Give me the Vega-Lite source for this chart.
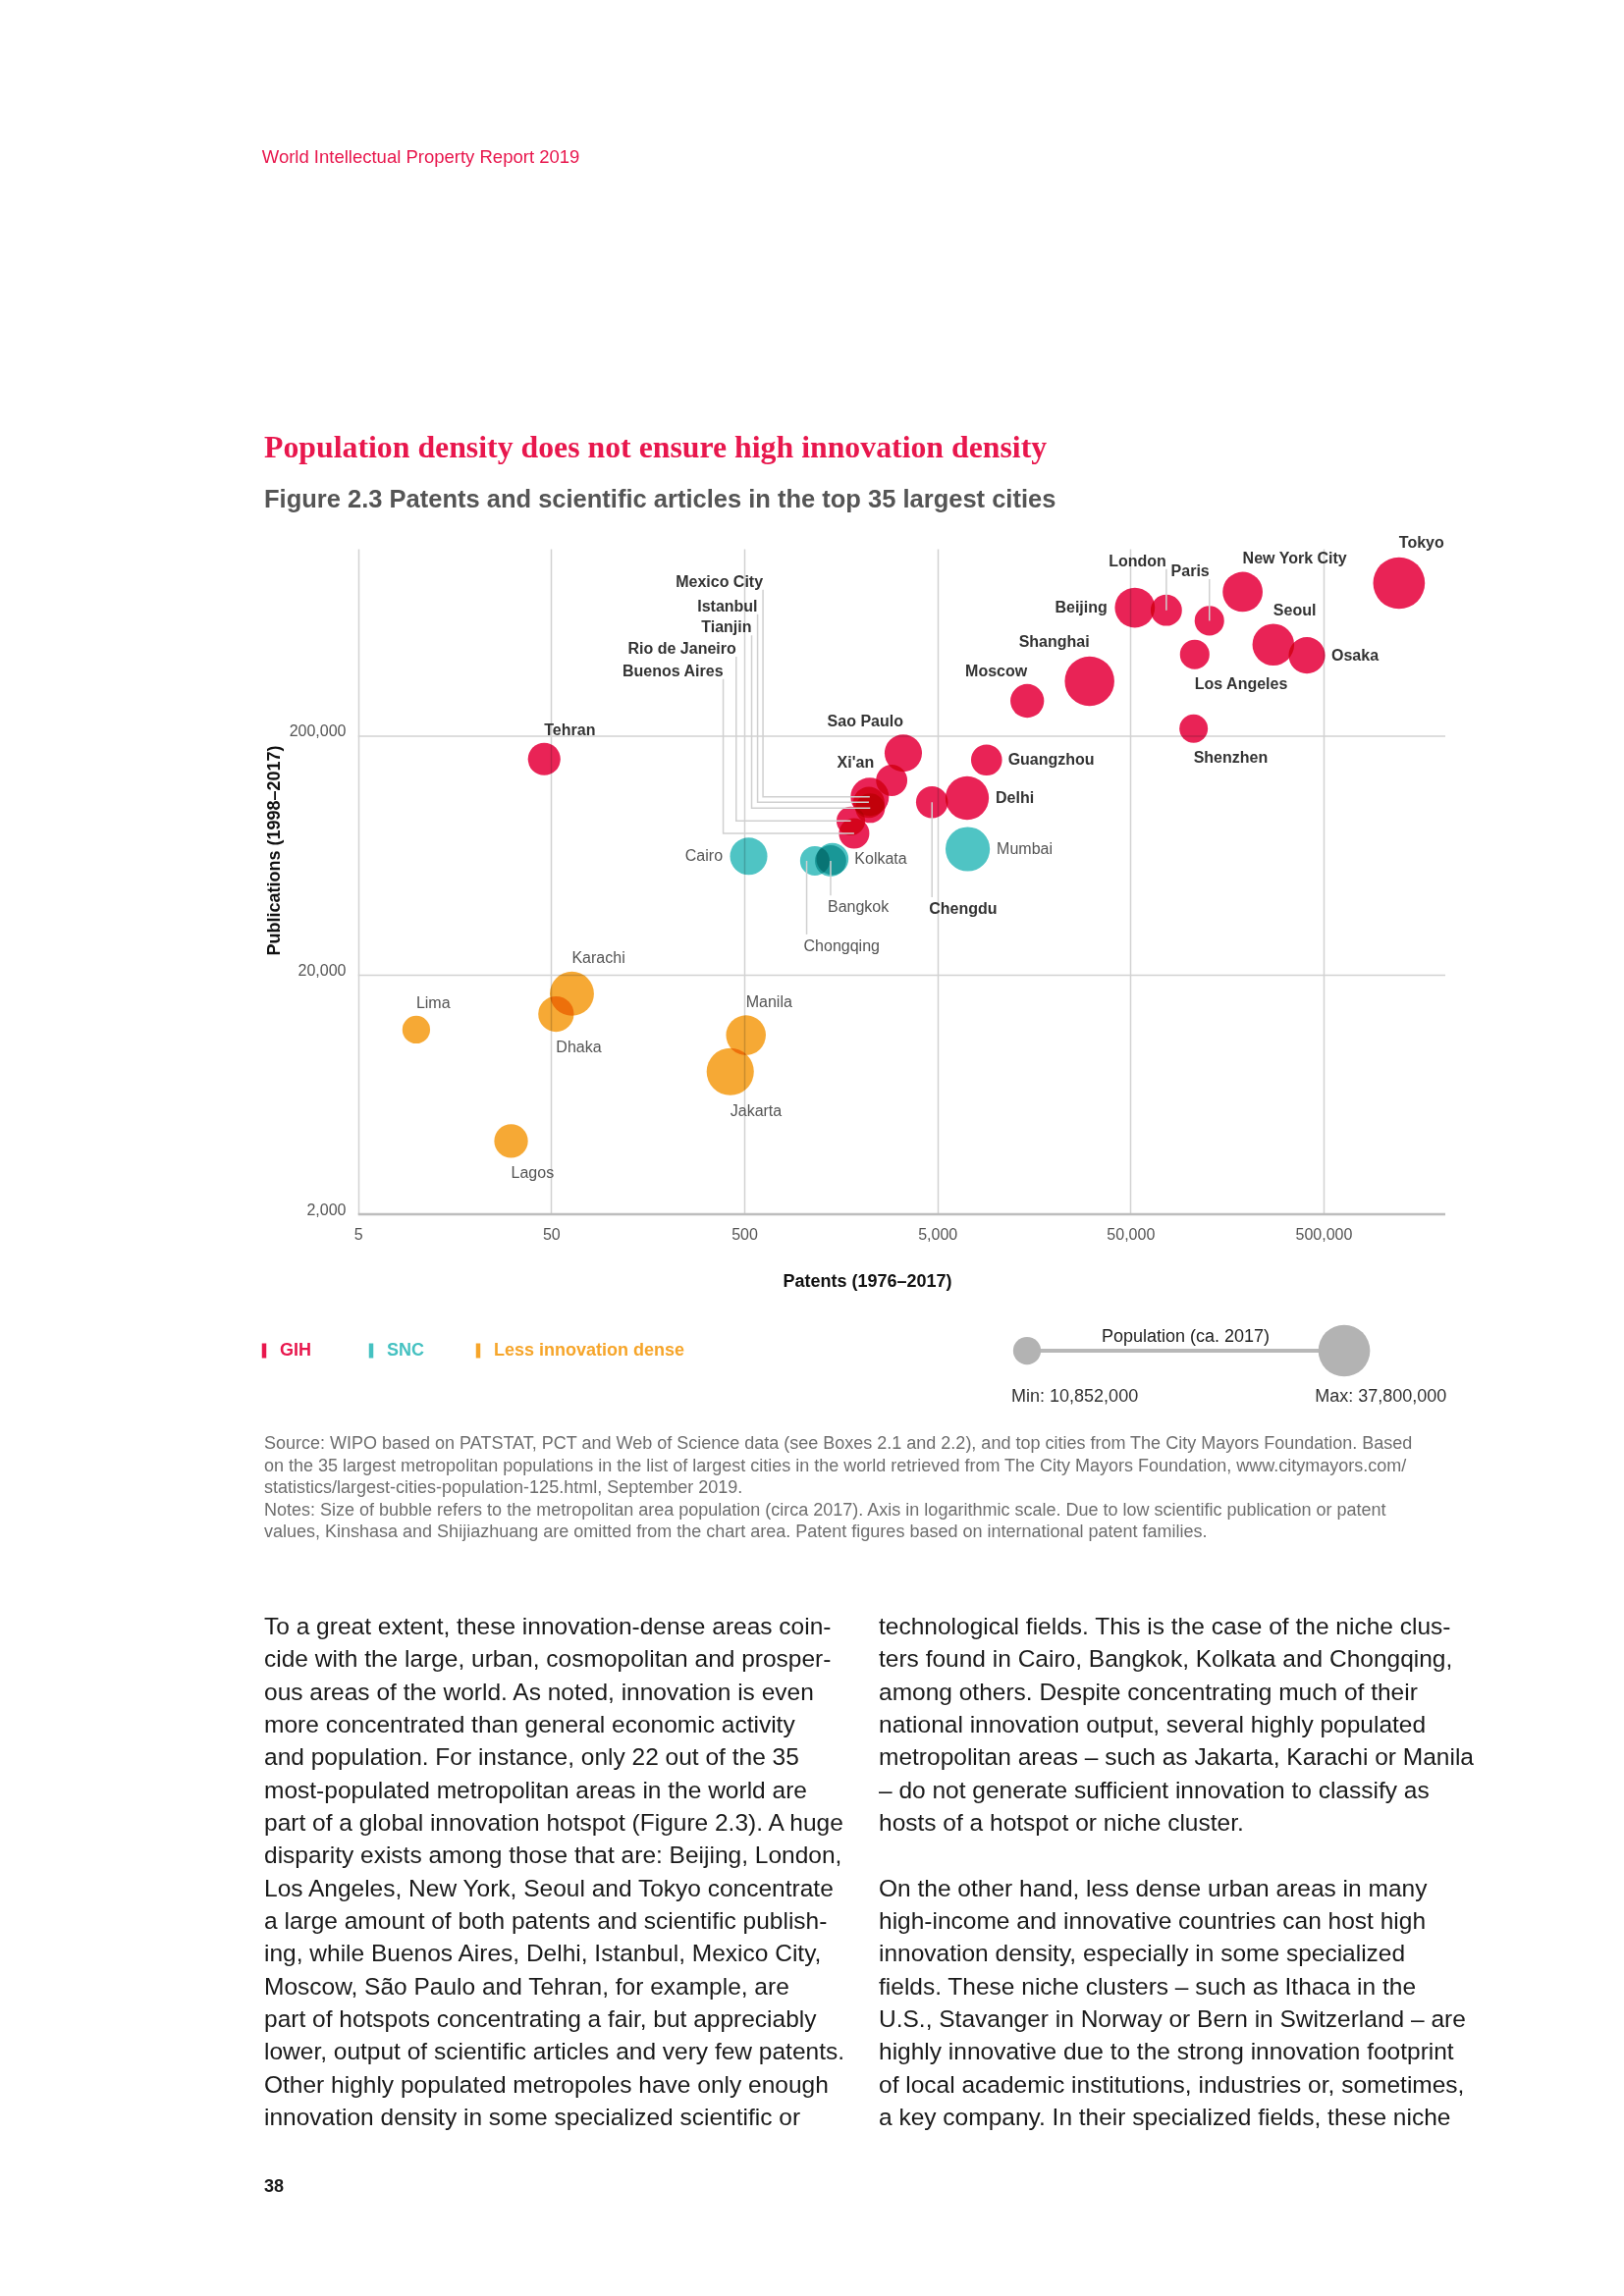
{
  "$schema": "https://vega.github.io/schema/vega-lite/v6.json",
  "background": "white",
  "padding": {"top": 151, "left": 266, "right": 20, "bottom": 20},
  "config": {
    "view": {"stroke": null},
    "font": "Liberation Sans",
    "text": {"font": "Liberation Sans"}
  },
  "title": {
    "text": "World Intellectual Property Report 2019",
    "anchor": "start",
    "font": "Liberation Sans",
    "fontSize": 18.5,
    "fontWeight": "normal",
    "color": "#E8174D",
    "offset": 271.5
  },
  "datasets": {
    "cities": [
      {"city": "Tokyo", "group": "GIH", "patents": 1230000, "pubs": 874000, "pop": 37800000, "pos": "NE"},
      {"city": "Beijing", "group": "GIH", "patents": 52700, "pubs": 690000, "pop": 22600000, "pos": "W"},
      {"city": "London", "group": "GIH", "patents": 76700, "pubs": 673000, "pop": 13800000, "pos": "L"},
      {"city": "Paris", "group": "GIH", "patents": 128200, "pubs": 608000, "pop": 12300000, "pos": "L"},
      {"city": "New York City", "group": "GIH", "patents": 190600, "pubs": 803000, "pop": 22600000, "pos": "NE"},
      {"city": "Seoul", "group": "GIH", "patents": 274700, "pubs": 483000, "pop": 24600000, "pos": "NE"},
      {"city": "Osaka", "group": "GIH", "patents": 410000, "pubs": 435600, "pop": 18800000, "pos": "E"},
      {"city": "Los Angeles", "group": "GIH", "patents": 107600, "pubs": 439600, "pop": 12300000, "pos": "SE"},
      {"city": "Shanghai", "group": "GIH", "patents": 30700, "pubs": 339600, "pop": 34700000, "pos": "NW"},
      {"city": "Moscow", "group": "GIH", "patents": 14600, "pubs": 281000, "pop": 16000000, "pos": "NW"},
      {"city": "Shenzhen", "group": "GIH", "patents": 106200, "pubs": 215000, "pop": 11400000, "pos": "SE"},
      {"city": "Guangzhou", "group": "GIH", "patents": 8990, "pubs": 159000, "pop": 13600000, "pos": "E"},
      {"city": "Delhi", "group": "GIH", "patents": 7130, "pubs": 110200, "pop": 26700000, "pos": "E"},
      {"city": "Sao Paulo", "group": "GIH", "patents": 3330, "pubs": 169800, "pop": 19700000, "pos": "NW"},
      {"city": "Xi'an", "group": "GIH", "patents": 2900, "pubs": 130600, "pop": 13800000, "pos": "WN"},
      {"city": "Chengdu", "group": "GIH", "patents": 4690, "pubs": 105800, "pop": 14400000, "pos": "L"},
      {"city": "Mexico City", "group": "GIH", "patents": 2233, "pubs": 111600, "pop": 20700000, "pos": "L"},
      {"city": "Istanbul", "group": "GIH", "patents": 2210, "pubs": 105800, "pop": 13800000, "pos": "L"},
      {"city": "Tianjin", "group": "GIH", "patents": 2245, "pubs": 100000, "pop": 12300000, "pos": "L"},
      {"city": "Rio de Janeiro", "group": "GIH", "patents": 1782, "pubs": 88400, "pop": 11600000, "pos": "L"},
      {"city": "Buenos Aires", "group": "GIH", "patents": 1853, "pubs": 78400, "pop": 13100000, "pos": "L"},
      {"city": "Tehran", "group": "GIH", "patents": 46, "pubs": 160400, "pop": 14900000, "pos": "NE"},
      {"city": "Cairo", "group": "SNC", "patents": 527, "pubs": 62900, "pop": 19700000, "pos": "W"},
      {"city": "Mumbai", "group": "SNC", "patents": 7180, "pubs": 67400, "pop": 27800000, "pos": "E"},
      {"city": "Kolkata", "group": "SNC", "patents": 1431, "pubs": 61300, "pop": 14600000, "pos": "E"},
      {"city": "Bangkok", "group": "SNC", "patents": 1400, "pubs": 60200, "pop": 13800000, "pos": "L"},
      {"city": "Chongqing", "group": "SNC", "patents": 1160, "pubs": 60200, "pop": 12300000, "pos": "L"},
      {"city": "Lima", "group": "Less innovation dense", "patents": 10, "pubs": 11840, "pop": 10852000, "pos": "NE"},
      {"city": "Karachi", "group": "Less innovation dense", "patents": 64, "pubs": 16740, "pop": 27400000, "pos": "NE"},
      {"city": "Dhaka", "group": "Less innovation dense", "patents": 53, "pubs": 13760, "pop": 17900000, "pos": "SE"},
      {"city": "Manila", "group": "Less innovation dense", "patents": 510, "pubs": 11220, "pop": 22300000, "pos": "NE"},
      {"city": "Jakarta", "group": "Less innovation dense", "patents": 423, "pubs": 7900, "pop": 31500000, "pos": "SE"},
      {"city": "Lagos", "group": "Less innovation dense", "patents": 31, "pubs": 4050, "pop": 16000000, "pos": "SE"}
    ],
    "leaders": [
      {"city": "Mexico City", "group": "GIH", "seq": 0, "patents": 625, "pubs": 820600, "lab": "top"},
      {"city": "Mexico City", "group": "GIH", "seq": 1, "patents": 625, "pubs": 111600, "lab": ""},
      {"city": "Mexico City", "group": "GIH", "seq": 2, "patents": 2233, "pubs": 111600, "lab": ""},
      {"city": "Istanbul", "group": "GIH", "seq": 0, "patents": 586, "pubs": 647800, "lab": "top"},
      {"city": "Istanbul", "group": "GIH", "seq": 1, "patents": 586, "pubs": 105800, "lab": ""},
      {"city": "Istanbul", "group": "GIH", "seq": 2, "patents": 2210, "pubs": 105800, "lab": ""},
      {"city": "Tianjin", "group": "GIH", "seq": 0, "patents": 546, "pubs": 528200, "lab": "top"},
      {"city": "Tianjin", "group": "GIH", "seq": 1, "patents": 546, "pubs": 100000, "lab": ""},
      {"city": "Tianjin", "group": "GIH", "seq": 2, "patents": 2245, "pubs": 100000, "lab": ""},
      {"city": "Rio de Janeiro", "group": "GIH", "seq": 0, "patents": 454, "pubs": 430200, "lab": "top"},
      {"city": "Rio de Janeiro", "group": "GIH", "seq": 1, "patents": 454, "pubs": 88400, "lab": ""},
      {"city": "Rio de Janeiro", "group": "GIH", "seq": 2, "patents": 1782, "pubs": 88400, "lab": ""},
      {"city": "Buenos Aires", "group": "GIH", "seq": 0, "patents": 389, "pubs": 347000, "lab": "top"},
      {"city": "Buenos Aires", "group": "GIH", "seq": 1, "patents": 389, "pubs": 78400, "lab": ""},
      {"city": "Buenos Aires", "group": "GIH", "seq": 2, "patents": 1853, "pubs": 78400, "lab": ""},
      {"city": "London", "group": "GIH", "seq": 0, "patents": 76700, "pubs": 1001000, "lab": "top"},
      {"city": "London", "group": "GIH", "seq": 1, "patents": 76700, "pubs": 673000, "lab": ""},
      {"city": "Paris", "group": "GIH", "seq": 0, "patents": 128200, "pubs": 908000, "lab": "top"},
      {"city": "Paris", "group": "GIH", "seq": 1, "patents": 128200, "pubs": 608000, "lab": ""},
      {"city": "Bangkok", "group": "SNC", "seq": 0, "patents": 1400, "pubs": 60200, "lab": ""},
      {"city": "Bangkok", "group": "SNC", "seq": 1, "patents": 1400, "pubs": 43100, "lab": "bottom"},
      {"city": "Chongqing", "group": "SNC", "seq": 0, "patents": 1052, "pubs": 60200, "lab": ""},
      {"city": "Chongqing", "group": "SNC", "seq": 1, "patents": 1052, "pubs": 29620, "lab": "bottom"},
      {"city": "Chengdu", "group": "GIH", "seq": 0, "patents": 4690, "pubs": 105800, "lab": ""},
      {"city": "Chengdu", "group": "GIH", "seq": 1, "patents": 4690, "pubs": 42400, "lab": "bottom"}
    ],
    "hlines": [
      {"pubs": 20000, "patents": 5, "xend": 2136000, "kind": "grid"},
      {"pubs": 200000, "patents": 5, "xend": 2136000, "kind": "grid"},
      {"pubs": 2000, "patents": 5, "xend": 2136000, "kind": "base"}
    ],
    "legend": [
      {"group": "GIH", "row": "a"},
      {"group": "SNC", "row": "a"},
      {"group": "Less innovation dense", "row": "a"}
    ],
    "sizeLegend": [
      {"k": "min", "pop": 10852000, "label": "Min: 10,852,000", "row": "a"},
      {"k": "max", "pop": 37800000, "label": "Max: 37,800,000", "row": "a"}
    ],
    "sizeTitle": [
      {"t": "Population (ca. 2017)", "row": "a"}
    ],
    "source": [
      {"col": "a", "line": 1, "text": "Source: WIPO based on PATSTAT, PCT and Web of Science data (see Boxes 2.1 and 2.2), and top cities from The City Mayors Foundation. Based"},
      {"col": "a", "line": 2, "text": "on the 35 largest metropolitan populations in the list of largest cities in the world retrieved from The City Mayors Foundation, www.citymayors.com/"},
      {"col": "a", "line": 3, "text": "statistics/largest-cities-population-125.html, September 2019."},
      {"col": "a", "line": 4, "text": "Notes: Size of bubble refers to the metropolitan area population (circa 2017). Axis in logarithmic scale. Due to low scientific publication or patent"},
      {"col": "a", "line": 5, "text": "values, Kinshasa and Shijiazhuang are omitted from the chart area. Patent figures based on international patent families."}
    ],
    "body": [
      {"col": "L", "line": 1, "text": "To a great extent, these innovation-dense areas coin-"},
      {"col": "L", "line": 2, "text": "cide with the large, urban, cosmopolitan and prosper-"},
      {"col": "L", "line": 3, "text": "ous areas of the world. As noted, innovation is even"},
      {"col": "L", "line": 4, "text": "more concentrated than general economic activity"},
      {"col": "L", "line": 5, "text": "and population. For instance, only 22 out of the 35"},
      {"col": "L", "line": 6, "text": "most-populated metropolitan areas in the world are"},
      {"col": "L", "line": 7, "text": "part of a global innovation hotspot (Figure 2.3). A huge"},
      {"col": "L", "line": 8, "text": "disparity exists among those that are: Beijing, London,"},
      {"col": "L", "line": 9, "text": "Los Angeles, New York, Seoul and Tokyo concentrate"},
      {"col": "L", "line": 10, "text": "a large amount of both patents and scientific publish-"},
      {"col": "L", "line": 11, "text": "ing, while Buenos Aires, Delhi, Istanbul, Mexico City,"},
      {"col": "L", "line": 12, "text": "Moscow, São Paulo and Tehran, for example, are"},
      {"col": "L", "line": 13, "text": "part of hotspots concentrating a fair, but appreciably"},
      {"col": "L", "line": 14, "text": "lower, output of scientific articles and very few patents."},
      {"col": "L", "line": 15, "text": "Other highly populated metropoles have only enough"},
      {"col": "L", "line": 16, "text": "innovation density in some specialized scientific or"},
      {"col": "R", "line": 1, "text": "technological fields. This is the case of the niche clus-"},
      {"col": "R", "line": 2, "text": "ters found in Cairo, Bangkok, Kolkata and Chongqing,"},
      {"col": "R", "line": 3, "text": "among others. Despite concentrating much of their"},
      {"col": "R", "line": 4, "text": "national innovation output, several highly populated"},
      {"col": "R", "line": 5, "text": "metropolitan areas – such as Jakarta, Karachi or Manila"},
      {"col": "R", "line": 6, "text": "– do not generate sufficient innovation to classify as"},
      {"col": "R", "line": 7, "text": "hosts of a hotspot or niche cluster."},
      {"col": "R", "line": 9, "text": "On the other hand, less dense urban areas in many"},
      {"col": "R", "line": 10, "text": "high-income and innovative countries can host high"},
      {"col": "R", "line": 11, "text": "innovation density, especially in some specialized"},
      {"col": "R", "line": 12, "text": "fields. These niche clusters – such as Ithaca in the"},
      {"col": "R", "line": 13, "text": "U.S., Stavanger in Norway or Bern in Switzerland – are"},
      {"col": "R", "line": 14, "text": "highly innovative due to the strong innovation footprint"},
      {"col": "R", "line": 15, "text": "of local academic institutions, industries or, sometimes,"},
      {"col": "R", "line": 16, "text": "a key company. In their specialized fields, these niche"}
    ],
    "page": [
      {"col": "a", "row": "a", "text": "38"}
    ]
  },
  "spacing": 32,
  "vconcat": [
    {
      "width": 1203,
      "height": 678,
      "title": {
        "text": "Population density does not ensure high innovation density",
        "subtitle": "Figure 2.3 Patents and scientific articles in the top 35 largest cities",
        "anchor": "start",
        "frame": "bounds",
        "font": "Liberation Serif",
        "fontSize": 31.8,
        "fontWeight": "bold",
        "color": "#E8174D",
        "subtitleFont": "Liberation Sans",
        "subtitleFontSize": 25.5,
        "subtitleFontWeight": "bold",
        "subtitleColor": "#555555",
        "subtitlePadding": 24,
        "offset": 22.5
      },
      "encoding": {
        "x": {
          "field": "patents", "type": "quantitative",
          "scale": {"type": "log", "domain": [1.6303, 2136000], "nice": false},
          "axis": {
            "values": [5, 50, 500, 5000, 50000, 500000], "format": ",",
            "title": "Patents (1976–2017)",
            "grid": true, "gridColor": "#d2d2d2", "gridWidth": 1.5,
            "ticks": false, "tickSize": 0, "domain": false,
            "labelFlush": false, "labelOverlap": false, "labelPadding": 12,
            "labelFont": "Liberation Sans", "labelFontSize": 16, "labelColor": "#555555",
            "titleFont": "Liberation Sans", "titleFontSize": 18, "titleFontWeight": "bold", "titleColor": "#111111",
            "titlePadding": 31, "titleX": 614
          }
        },
        "y": {
          "field": "pubs", "type": "quantitative",
          "scale": {"type": "log", "domain": [2000, 1217000], "nice": false},
          "axis": {
            "values": [2000, 20000, 200000], "format": ",",
            "title": "Publications (1998–2017)",
            "grid": false, "ticks": false, "tickSize": 0, "domain": false,
            "offset": -96,
            "labelFlush": false, "labelBaseline": "alphabetic", "labelPadding": 13,
            "labelFont": "Liberation Sans", "labelFontSize": 16, "labelColor": "#555555",
            "titleFont": "Liberation Sans", "titleFontSize": 18, "titleFontWeight": "bold", "titleColor": "#111111",
            "titlePadding": 6, "titleY": 307
          }
        }
      },
      "layer": [
        {
          "data": {"name": "hlines"},
          "transform": [{"filter": "datum.kind === 'grid'"}],
          "mark": {"type": "rule", "color": "#d2d2d2", "strokeWidth": 1.5},
          "encoding": {
            "x2": {"field": "xend"}
          }
        },
        {
          "data": {"name": "hlines"},
          "transform": [{"filter": "datum.kind === 'base'"}],
          "mark": {"type": "rule", "color": "#bdbdbd", "strokeWidth": 2.5},
          "encoding": {
            "x2": {"field": "xend"}
          }
        },
        {
          "data": {"name": "cities"},
          "mark": {"type": "circle", "opacity": 0.95, "blend": "multiply"},
          "encoding": {
            "size": {"field": "pop", "type": "quantitative", "scale": {"domain": [0, 37800000], "range": [0, 2780]}, "legend": null},
            "color": {"field": "group", "type": "nominal", "scale": {"domain": ["GIH", "SNC", "Less innovation dense"], "range": ["#E8174D", "#45C1C1", "#F6A52A"]}, "legend": null}
          }
        },
        {
          "data": {"name": "leaders"},
          "mark": {"type": "line", "color": "#d0d0d0", "strokeWidth": 1.5},
          "encoding": {
            "detail": {"field": "city"},
            "order": {"field": "seq", "type": "quantitative"}
          }
        },
        {
          "data": {"name": "cities"},
          "transform": [{"filter": "datum.pos === 'NE'"}],
          "mark": {"type": "text", "align": "left", "baseline": "alphabetic", "fontSize": 16,
            "dy": {"expr": "-(29.75*sqrt(datum.pop/37800000)+6)"},
            "fontWeight": {"expr": "datum.group === 'GIH' ? 'bold' : 'normal'"}},
          "encoding": {"text": {"field": "city"}, "color": {"condition": {"test": "datum.group === 'GIH'", "value": "#333333"}, "value": "#555555"}}
        },
        {
          "data": {"name": "cities"},
          "transform": [{"filter": "datum.pos === 'NW'"}],
          "mark": {"type": "text", "align": "right", "baseline": "alphabetic", "fontSize": 16,
            "dy": {"expr": "-(29.75*sqrt(datum.pop/37800000)+6)"},
            "fontWeight": {"expr": "datum.group === 'GIH' ? 'bold' : 'normal'"}},
          "encoding": {"text": {"field": "city"}, "color": {"condition": {"test": "datum.group === 'GIH'", "value": "#333333"}, "value": "#555555"}}
        },
        {
          "data": {"name": "cities"},
          "transform": [{"filter": "datum.pos === 'SE'"}],
          "mark": {"type": "text", "align": "left", "baseline": "top", "fontSize": 16,
            "dy": {"expr": "29.75*sqrt(datum.pop/37800000)+5"},
            "fontWeight": {"expr": "datum.group === 'GIH' ? 'bold' : 'normal'"}},
          "encoding": {"text": {"field": "city"}, "color": {"condition": {"test": "datum.group === 'GIH'", "value": "#333333"}, "value": "#555555"}}
        },
        {
          "data": {"name": "cities"},
          "transform": [{"filter": "datum.pos === 'E'"}],
          "mark": {"type": "text", "align": "left", "baseline": "middle", "fontSize": 16,
            "dx": {"expr": "29.75*sqrt(datum.pop/37800000)+4"},
            "fontWeight": {"expr": "datum.group === 'GIH' ? 'bold' : 'normal'"}},
          "encoding": {"text": {"field": "city"}, "color": {"condition": {"test": "datum.group === 'GIH'", "value": "#333333"}, "value": "#555555"}}
        },
        {
          "data": {"name": "cities"},
          "transform": [{"filter": "datum.pos === 'W'"}],
          "mark": {"type": "text", "align": "right", "baseline": "middle", "fontSize": 16,
            "dx": {"expr": "-(29.75*sqrt(datum.pop/37800000)+5)"},
            "fontWeight": {"expr": "datum.group === 'GIH' ? 'bold' : 'normal'"}},
          "encoding": {"text": {"field": "city"}, "color": {"condition": {"test": "datum.group === 'GIH'", "value": "#333333"}, "value": "#555555"}}
        },
        {
          "data": {"name": "cities"},
          "transform": [{"filter": "datum.pos === 'WN'"}],
          "mark": {"type": "text", "align": "right", "baseline": "middle", "fontSize": 16,
            "dx": {"expr": "-29.75*sqrt(datum.pop/37800000)"},
            "dy": {"expr": "-29.75*sqrt(datum.pop/37800000)"},
            "fontWeight": {"expr": "datum.group === 'GIH' ? 'bold' : 'normal'"}},
          "encoding": {"text": {"field": "city"}, "color": {"condition": {"test": "datum.group === 'GIH'", "value": "#333333"}, "value": "#555555"}}
        },
        {
          "data": {"name": "leaders"},
          "transform": [{"filter": "datum.lab === 'top'"}],
          "mark": {"type": "text", "align": "right", "baseline": "alphabetic", "fontSize": 16, "dy": -3,
            "fontWeight": {"expr": "datum.group === 'GIH' ? 'bold' : 'normal'"}},
          "encoding": {"text": {"field": "city"}, "color": {"condition": {"test": "datum.group === 'GIH'", "value": "#333333"}, "value": "#555555"}}
        },
        {
          "data": {"name": "leaders"},
          "transform": [{"filter": "datum.lab === 'bottom'"}],
          "mark": {"type": "text", "align": "left", "baseline": "top", "fontSize": 16, "dx": -3, "dy": 4,
            "fontWeight": {"expr": "datum.group === 'GIH' ? 'bold' : 'normal'"}},
          "encoding": {"text": {"field": "city"}, "color": {"condition": {"test": "datum.group === 'GIH'", "value": "#333333"}, "value": "#555555"}}
        }
      ]
    },
    {
      "spacing": 30,
      "vconcat": [
        {
          "bounds": "flush",
          "spacing": 559,
          "hconcat": [
            {
              "width": 218,
              "height": 60,
              "data": {"name": "legend"},
              "encoding": {
                "x": {"field": "group", "type": "nominal", "scale": {"type": "point", "domain": ["GIH", "SNC", "Less innovation dense"], "padding": 0}, "axis": null},
                "y": {"field": "row", "type": "nominal", "scale": {"type": "point"}, "axis": null},
                "color": {"field": "group", "type": "nominal", "scale": {"domain": ["GIH", "SNC", "Less innovation dense"], "range": ["#E8174D", "#45C1C1", "#F6A52A"]}, "legend": null}
              },
              "layer": [
                {"mark": {"type": "point", "shape": "M-0.3,-1H0.3V1H-0.3Z", "filled": true, "size": 225, "opacity": 1}},
                {"mark": {"type": "text", "align": "left", "baseline": "middle", "dx": 16, "fontSize": 18, "fontWeight": "bold"},
                 "encoding": {"text": {"field": "group"}}}
              ]
            },
            {
              "width": 323,
              "height": 60,
              "layer": [
                {
                  "data": {"name": "sizeLegend"},
                  "mark": {"type": "line", "color": "#b8b8b8", "strokeWidth": 4},
                  "encoding": {
                    "x": {"field": "k", "type": "nominal", "scale": {"type": "point", "domain": ["min", "max"], "padding": 0}, "axis": null},
                    "y": {"field": "row", "type": "nominal", "scale": {"type": "point"}, "axis": null}
                  }
                },
                {
                  "data": {"name": "sizeLegend"},
                  "mark": {"type": "circle", "color": "#b3b3b3", "opacity": 1},
                  "encoding": {
                    "x": {"field": "k", "type": "nominal", "scale": {"type": "point", "domain": ["min", "max"], "padding": 0}, "axis": null},
                    "y": {"field": "row", "type": "nominal", "scale": {"type": "point"}, "axis": null},
                    "size": {"field": "pop", "type": "quantitative", "scale": {"domain": [0, 37800000], "range": [0, 2780]}, "legend": null}
                  }
                },
                {
                  "data": {"name": "sizeLegend"},
                  "mark": {"type": "text", "align": "left", "baseline": "middle", "fontSize": 18, "color": "#333333", "dy": 47,
                    "dx": {"expr": "-29.75*sqrt(datum.pop/37800000)"}},
                  "encoding": {
                    "x": {"field": "k", "type": "nominal", "scale": {"type": "point", "domain": ["min", "max"], "padding": 0}, "axis": null},
                    "y": {"field": "row", "type": "nominal", "scale": {"type": "point"}, "axis": null},
                    "text": {"field": "label"}
                  }
                },
                {
                  "data": {"name": "sizeTitle"},
                  "mark": {"type": "text", "align": "center", "baseline": "alphabetic", "fontSize": 18, "color": "#222222", "dy": -9},
                  "encoding": {
                    "y": {"field": "row", "type": "nominal", "scale": {"type": "point"}, "axis": null},
                    "text": {"field": "t"}
                  }
                }
              ]
            }
          ]
        },
        {
          "spacing": 74,
          "vconcat": [
            {
              "width": 1190,
              "height": 90,
              "data": {"name": "source"},
              "mark": {"type": "text", "align": "left", "baseline": "middle", "fontSize": 18, "color": "#6e6e6e"},
              "encoding": {
                "x": {"field": "col", "type": "nominal", "scale": {"type": "point", "padding": 0, "align": 0}, "axis": null},
                "y": {"field": "line", "type": "ordinal", "scale": {"type": "point", "padding": 0}, "axis": null},
                "text": {"field": "text"}
              }
            },
            {
              "spacing": 49,
              "vconcat": [
                {
                  "width": 626,
                  "height": 500,
                  "data": {"name": "body"},
                  "mark": {"type": "text", "align": "left", "baseline": "middle", "fontSize": 24.5, "color": "#1a1a1a"},
                  "encoding": {
                    "x": {"field": "col", "type": "nominal", "scale": {"type": "point", "domain": ["L", "R"], "padding": 0}, "axis": null},
                    "y": {"field": "line", "type": "ordinal", "scale": {"type": "point", "padding": 0}, "axis": null},
                    "text": {"field": "text"}
                  }
                },
                {
                  "width": 60,
                  "height": 18,
                  "data": {"name": "page"},
                  "mark": {"type": "text", "align": "left", "baseline": "middle", "fontSize": 18, "fontWeight": "bold", "color": "#1a1a1a"},
                  "encoding": {
                    "x": {"field": "col", "type": "nominal", "scale": {"type": "point", "padding": 0, "align": 0}, "axis": null},
                    "y": {"field": "row", "type": "nominal", "scale": {"type": "point"}, "axis": null},
                    "text": {"field": "text"}
                  }
                }
              ]
            }
          ]
        }
      ]
    }
  ]
}
